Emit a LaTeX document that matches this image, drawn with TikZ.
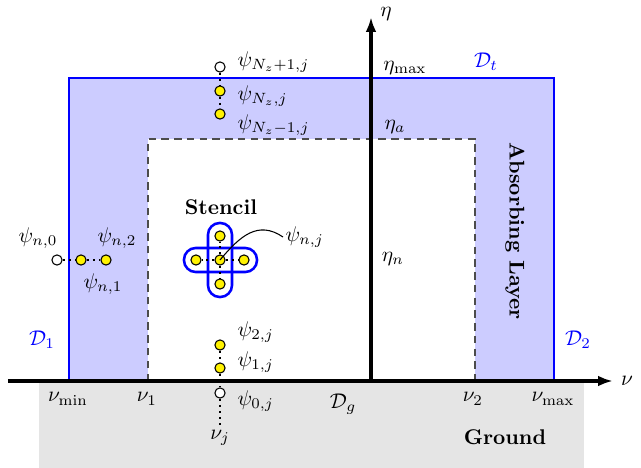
\documentclass[tikz,border=0pt]{standalone}
\usetikzlibrary{arrows.meta}
\begin{document}
\begin{tikzpicture}[x=0.47pt,y=-0.47pt,
 pt/.style={circle,draw,fill=yellow,minimum size=4.8pt,inner sep=0pt,line width=0.5pt},
 ghost/.style={circle,draw,fill=white,minimum size=4.8pt,inner sep=0pt,line width=0.5pt},
 lbl/.style={inner sep=1pt},
 dotline/.style={dotted,line width=0.9pt},
 axisline/.style={line width=1.5pt,-{Latex[length=7pt,width=5pt]}},
 bluelbl/.style={text=blue,inner sep=1pt},
 stencilbox/.style={draw=blue,line width=1.2pt,rounded corners=5.5pt}]
\useasboundingbox (0,0) rectangle (641,468);
% ground
\fill[black!10] (39,381) rectangle (584,468);
% domain
\fill[blue!20] (69,78) rectangle (554,381);
\draw[blue,line width=1.4pt] (69,381)--(69,78)--(554,78)--(554,381);
\fill[white] (148,139) rectangle (475,381);
\draw[dashed,black!70,line width=0.6pt,dash pattern=on 3.5pt off 2.5pt] (148,381)--(148,139)--(475,139)--(475,381);
% axes
\coordinate (nustart) at (8,381);
\coordinate (nuend) at (613,381);
\coordinate (etastart) at (371,381);
\coordinate (etaend) at (371,17);
\draw[axisline] (nustart) -- (nuend);
\draw[axisline] (etastart) -- (etaend);
\node[lbl] (nu) at (627,381) {$\nu$};
\node[lbl] (eta) at (386,14) {$\eta$};
% axis labels
\node[lbl] (etamax) at (405,68) {$\eta_{\max}$};
\node[lbl] (etaa) at (395,127) {$\eta_a$};
\node[lbl] (etan) at (393,259) {$\eta_n$};
\node[bluelbl] (Dt) at (486,62) {$\mathcal{D}_t$};
\node[bluelbl] (D1) at (42,340) {$\mathcal{D}_1$};
\node[bluelbl] (D2) at (578,340) {$\mathcal{D}_2$};
\node[lbl] (numin) at (68,399) {$\nu_{\min}$};
\node[lbl] (nu1) at (147,399) {$\nu_1$};
\node[lbl] (nu2) at (473,399) {$\nu_2$};
\node[lbl] (numax) at (553,399) {$\nu_{\max}$};
\node[lbl] (Dg) at (343,404) {$\mathcal{D}_g$};
\node[lbl,font=\bfseries] (ground) at (505,437) {Ground};
\node[lbl,font=\bfseries,rotate=-90] (absorb) at (515,231) {Absorbing Layer};
% top column
\node[ghost] (pNp1) at (220,67) {};
\node[pt] (pN) at (220,91) {};
\node[pt] (pNm1) at (220,114) {};
\draw[dotline] (pNp1) -- (pN);
\draw[dotline] (pN) -- (pNm1);
\node[lbl,anchor=west] (lNp1) at (235,62) {$\psi_{N_z+1,j}$};
\node[lbl,anchor=west] (lN) at (235,96) {$\psi_{N_z,j}$};
\node[lbl,anchor=west] (lNm1) at (235,125) {$\psi_{N_z-1,j}$};
% bottom column
\node[pt] (p2) at (220,345) {};
\node[pt] (p1) at (220,368) {};
\node[ghost] (p0) at (220,393) {};
\node[lbl] (nuj) at (220,438) {$\nu_j$};
\draw[dotline] (p2) -- (p1);
\draw[dotline] (p1) -- (p0);
\draw[dotline] (p0) -- (nuj);
\node[lbl,anchor=west] (l2) at (235,332) {$\psi_{2,j}$};
\node[lbl,anchor=west] (l1) at (235,362) {$\psi_{1,j}$};
\node[lbl,anchor=west] (l0) at (235,401) {$\psi_{0,j}$};
% left row
\node[ghost] (q0) at (57,260) {};
\node[pt] (q1) at (81,260) {};
\node[pt] (q2) at (106,260) {};
\draw[dotline] (q0) -- (q1);
\draw[dotline] (q1) -- (q2);
\node[lbl] (lq0) at (38,238) {$\psi_{n,0}$};
\node[lbl] (lq2) at (117,238) {$\psi_{n,2}$};
\node[lbl] (lq1) at (103,284) {$\psi_{n,1}$};
% stencil
\node[lbl,font=\bfseries] (stencil) at (221,207) {Stencil};
\draw[stencilbox] (208,223) rectangle (232,297);
\draw[stencilbox] (184,248) rectangle (257,272);
\node[pt] (sc) at (220,260) {};
\node[pt] (sl) at (196,260) {};
\node[pt] (sr) at (244,260) {};
\node[pt] (su) at (220,236) {};
\node[pt] (sd) at (220,284) {};
\draw[dotline] (sc) -- (sl);
\draw[dotline] (sc) -- (sr);
\draw[dotline] (sc) -- (su);
\draw[dotline] (sc) -- (sd);
\node[lbl,anchor=west] (lsc) at (283,237) {$\psi_{n,j}$};
\draw[line width=0.5pt] (sc.center) .. controls (240,236) and (258,220) .. (lsc.west);
\end{tikzpicture}
\end{document}
